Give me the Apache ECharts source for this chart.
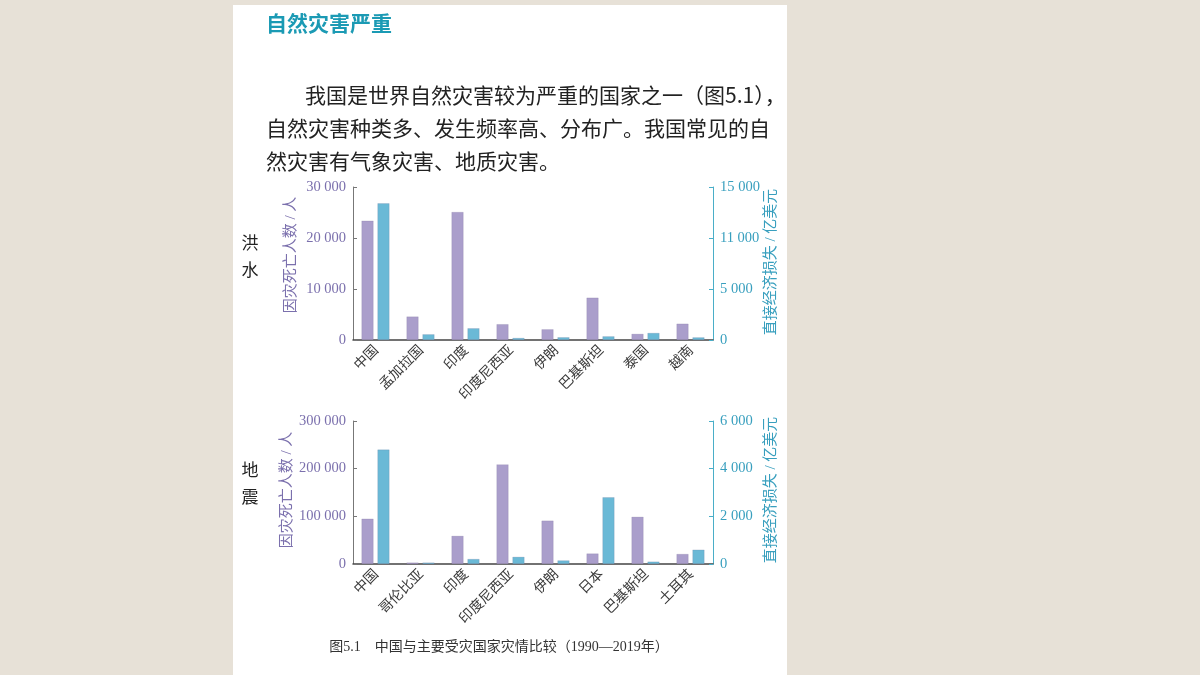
<!DOCTYPE html>
<html>
<head>
<meta charset="utf-8">
<script src="https://cdn.jsdelivr.net/npm/echarts@6/dist/echarts.min.js"></script>
<style>
html,body{margin:0;padding:0;background:#e7e1d7;}
#main{width:1200px;height:675px;}
</style>
</head>
<body>
<div id="main"></div>
<script>
// ---- data ----
const floodCats = ['中国','孟加拉国','印度','印度尼西亚','伊朗','巴基斯坦','泰国','越南'];
const floodDeaths = [23400, 4600, 25100, 3100, 2100, 8300, 1200, 3200];
const floodLoss = [13400, 560, 1150, 200, 270, 360, 690, 260];
const quakeCats = ['中国','哥伦比亚','印度','印度尼西亚','伊朗','日本','巴基斯坦','土耳其'];
const quakeDeaths = [95000, 3000, 59000, 209000, 91000, 22000, 99000, 21000];
const quakeLoss = [4800, 60, 210, 300, 150, 2800, 100, 600];
const floodDeathTicks = ['0','10 000','20 000','30 000'];
const floodLossTicks = ['0','5 000','11 000','15 000'];
const quakeDeathTicks = ['0','100 000','200 000','300 000'];
const quakeLossTicks = ['0','2 000','4 000','6 000'];

const purple = '#aa9ecb', blue = '#6ab9d6';
const purpleText = '#7b70ad', tealText = '#389fbe';
const serif = '"Liberation Serif","Noto Sans CJK SC",serif';
const cjk = '"Noto Sans CJK SC",sans-serif';

function tickFmt(ticks, interval){ return v => ticks[Math.round(v/interval)]; }

function xAx(grid, cats){
  return {type:'category', gridIndex:grid, data:cats,
    axisLine:{lineStyle:{color:'#444',width:1.5}}, axisTick:{show:false},
    axisLabel:{rotate:45, fontSize:14, color:'#3a3a3a', fontFamily:cjk, margin:7, interval:0}};
}
function yAxL(grid, max, interval, ticks){
  return {type:'value', gridIndex:grid, min:0, max:max, interval:interval, position:'left',
    axisLine:{show:true, lineStyle:{color:'#777',width:1}}, axisTick:{show:true, inside:true, length:4, lineStyle:{color:'#777'}},
    splitLine:{show:false},
    axisLabel:{formatter:tickFmt(ticks, interval), color:purpleText, fontSize:14.5, fontFamily:serif, margin:7}};
}
function yAxR(grid, max, interval, ticks){
  return {type:'value', gridIndex:grid, min:0, max:max, interval:interval, position:'right',
    axisLine:{show:true, lineStyle:{color:'#4aaec8',width:1}}, axisTick:{show:true, inside:true, length:4, lineStyle:{color:'#4aaec8'}},
    splitLine:{show:false},
    axisLabel:{formatter:tickFmt(ticks, interval), color:tealText, fontSize:14.5, fontFamily:serif, margin:7}};
}
function bars(xi, yi, data, color){
  return {type:'bar', xAxisIndex:xi, yAxisIndex:yi, data:data, barWidth:12, barGap:'33%',
    itemStyle:{color:color, borderColor:'rgba(110,100,140,0.35)', borderWidth:0.5}, silent:true, animation:false};
}
function txt(x,y,s,opt){
  return Object.assign({type:'text', x:x, y:y, style:Object.assign({text:s, fill:'#222', font:'20px '+cjk, align:'left', verticalAlign:'middle'}, opt||{})});
}
function vtxt(x,y,s,color){
  return {type:'text', x:x, y:y, rotation:Math.PI/2,
    style:{text:s, fill:color, font:'15px '+serif, align:'center', verticalAlign:'middle'}};
}

const chart = echarts.init(document.getElementById('main'), null, {renderer:'canvas'});
chart.setOption({
  backgroundColor:'#e7e1d7',
  animation:false,
  grid:[
    {left:353, width:360, top:187, height:153},
    {left:353, width:360, top:421, height:143}
  ],
  xAxis:[xAx(0, floodCats), xAx(1, quakeCats)],
  yAxis:[
    yAxL(0, 30000, 10000, floodDeathTicks),
    yAxR(0, 15000, 5000, floodLossTicks),
    yAxL(1, 300000, 100000, quakeDeathTicks),
    yAxR(1, 6000, 2000, quakeLossTicks)
  ],
  series:[
    bars(0,0,floodDeaths,purple),
    bars(0,1,floodLoss,blue),
    bars(1,2,quakeDeaths,purple),
    bars(1,3,quakeLoss,blue)
  ],
  graphic:[
    {type:'rect', z:-10, shape:{x:233,y:5,width:554,height:680}, style:{fill:'#ffffff'}},
    txt(266,23,'自然灾害严重',{fill:'#1b9ab4', font:'bold 21px '+cjk}),
    txt(305,95,'我国是世界自然灾害较为严重的国家之一（图5.1），',{font:'21px '+cjk}),
    txt(266,128,'自然灾害种类多、发生频率高、分布广。我国常见的自',{font:'21px '+cjk}),
    txt(266,161,'然灾害有气象灾害、地质灾害。',{font:'21px '+cjk}),
    txt(250,243,'洪',{font:'17px '+cjk, align:'center'}),
    txt(250,270,'水',{font:'17px '+cjk, align:'center'}),
    txt(250,470,'地',{font:'17px '+cjk, align:'center'}),
    txt(250,497,'震',{font:'17px '+cjk, align:'center'}),
    vtxt(291,255,'因灾死亡人数 / 人',purpleText),
    vtxt(771,262,'直接经济损失 / 亿美元',tealText),
    vtxt(287,490,'因灾死亡人数 / 人',purpleText),
    vtxt(771,490,'直接经济损失 / 亿美元',tealText),
    txt(499,647,'图5.1　中国与主要受灾国家灾情比较（1990—2019年）',{font:'14px '+serif, fill:'#333', align:'center'})
  ]
});
</script>
</body>
</html>
